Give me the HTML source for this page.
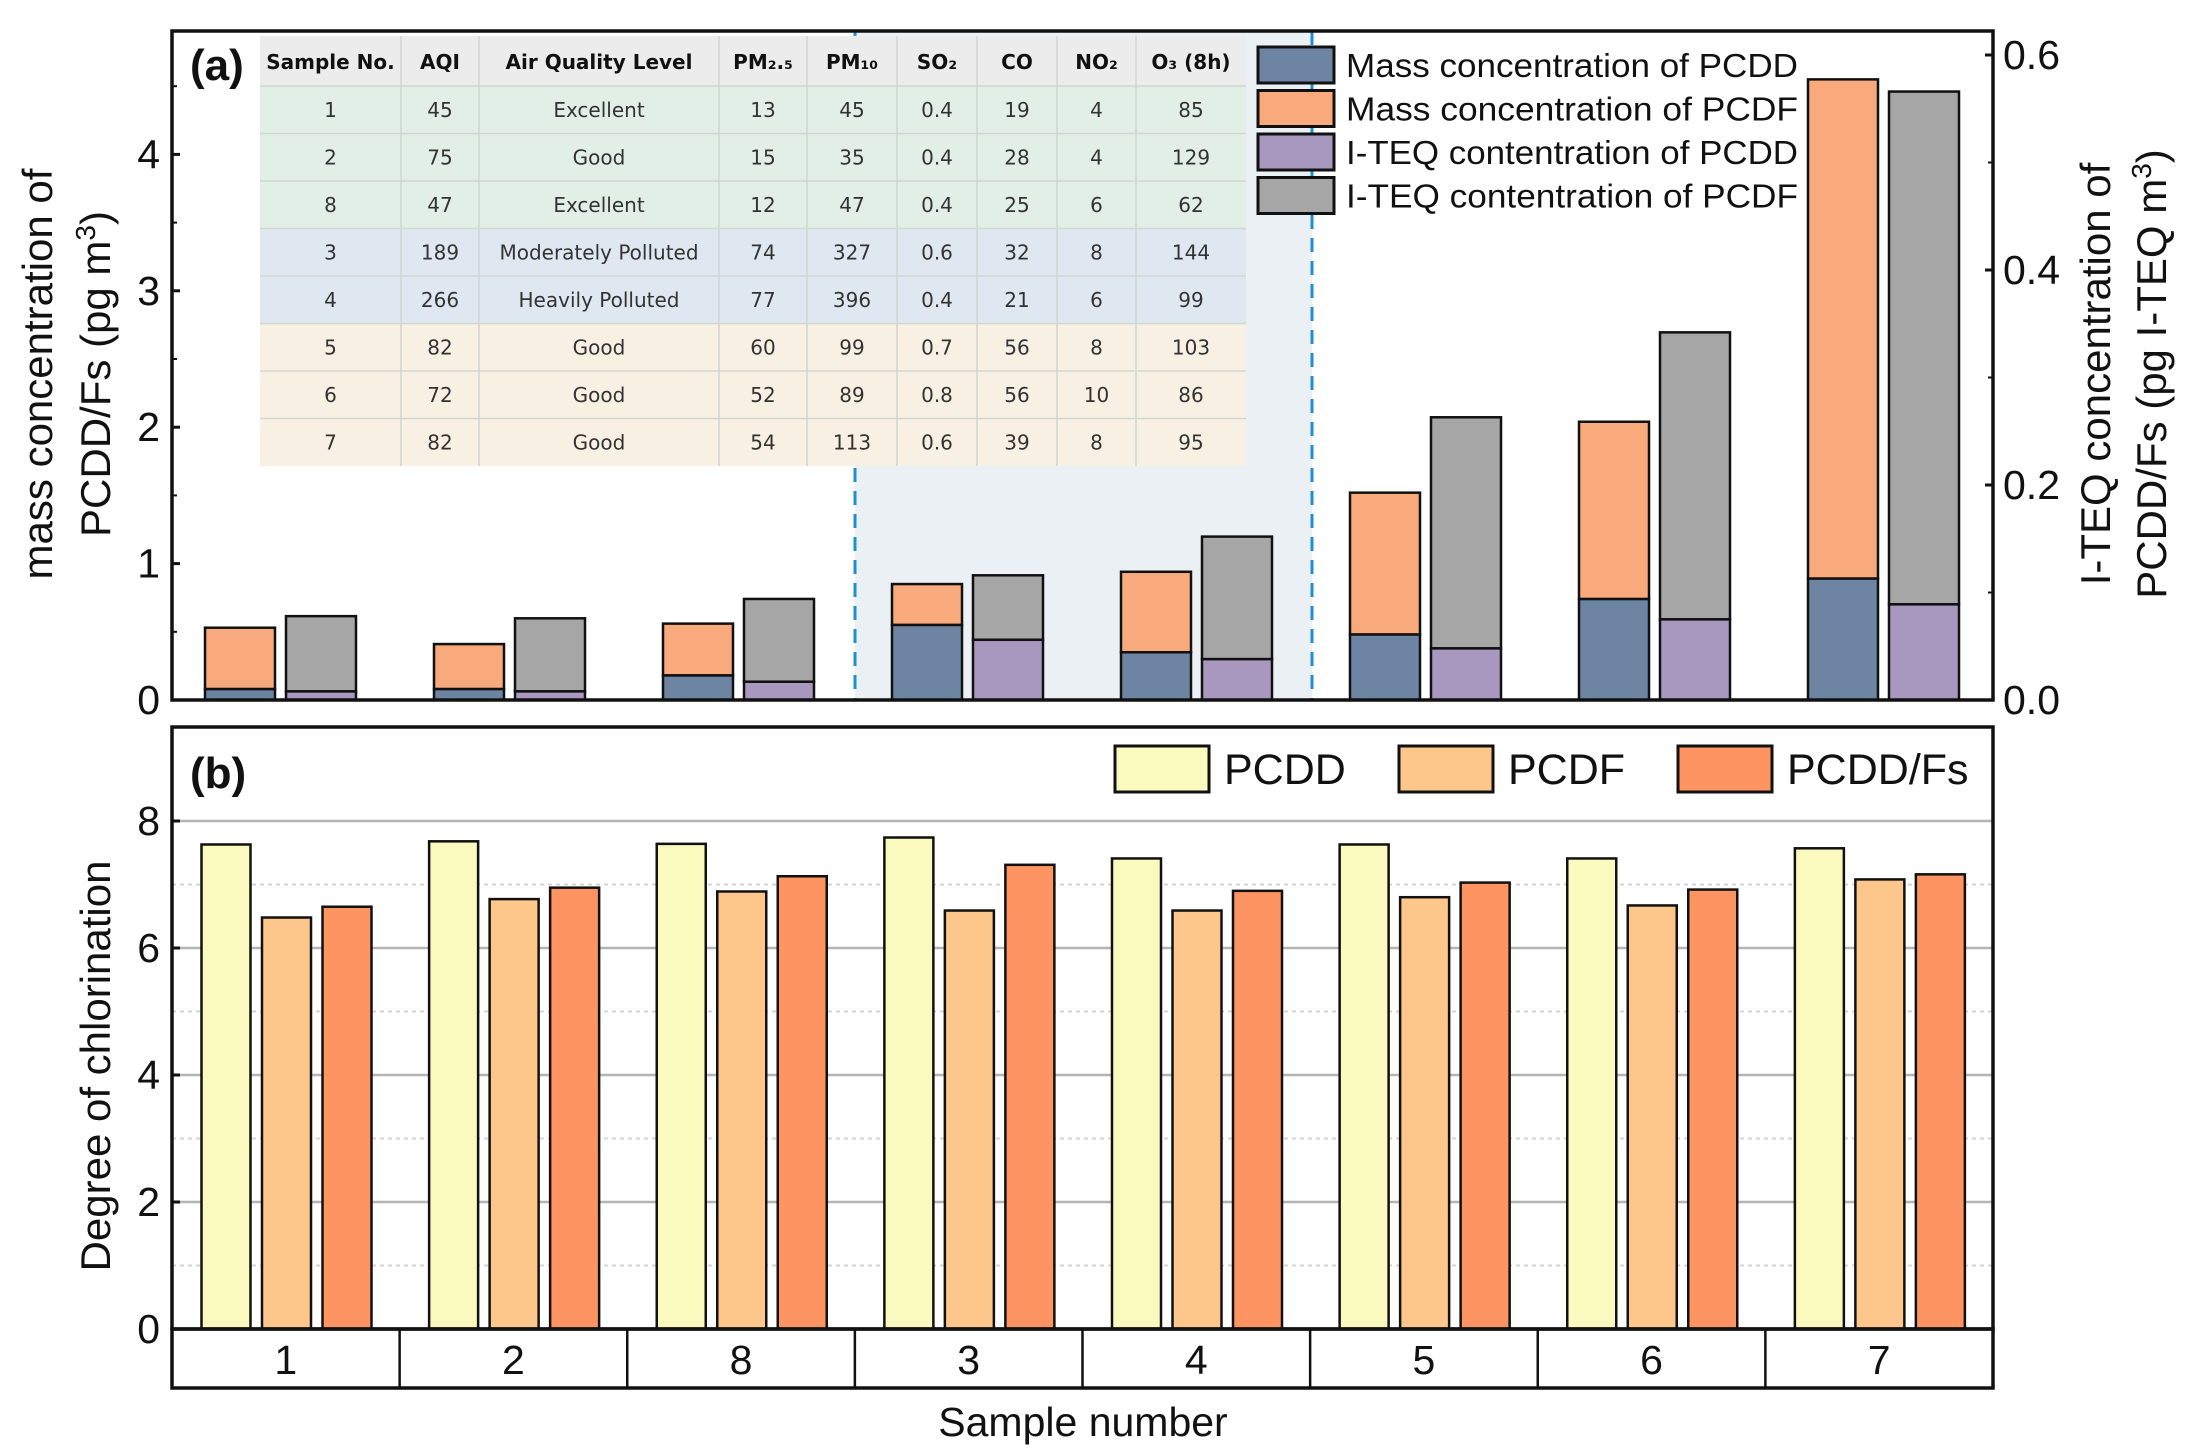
<!DOCTYPE html>
<html><head><meta charset="utf-8"><style>
html,body{margin:0;padding:0;background:#fff}
svg{display:block;font-family:"Liberation Sans",sans-serif}
</style></head><body>
<svg id="fig" width="2194" height="1455" viewBox="0 0 2194 1455" xmlns="http://www.w3.org/2000/svg">
<g id="a"></g>
<g id="b"></g>
</svg>
<script>
const samples = ["1","2","8","3","4","5","6","7"];
const massPCDD = [0.08,0.08,0.18,0.55,0.35,0.48,0.74,0.89];
const massTotal = [0.53,0.41,0.56,0.85,0.94,1.52,2.04,4.55];
const teqPCDD = [0.008,0.008,0.017,0.056,0.038,0.048,0.075,0.089];
const teqTotal = [0.078,0.076,0.094,0.116,0.152,0.263,0.342,0.566];
const leftTicks = [0,1,2,3,4];
const rightTicks = [0,0.2,0.4,0.6];
const rightTickLabels = ["0.0","0.2","0.4","0.6"];
const chlPCDD = [7.63,7.68,7.64,7.74,7.41,7.63,7.41,7.57];
const chlPCDF = [6.48,6.77,6.89,6.59,6.59,6.80,6.67,7.08];
const chlAll = [6.65,6.95,7.13,7.31,6.90,7.03,6.92,7.16];
const bTicks = [0,2,4,6,8];
const tableHeader = ["Sample No.","AQI","Air Quality Level","PM₂.₅","PM₁₀","SO₂","CO","NO₂","O₃ (8h)"];
const tableRows = [
["1","45","Excellent","13","45","0.4","19","4","85"],
["2","75","Good","15","35","0.4","28","4","129"],
["8","47","Excellent","12","47","0.4","25","6","62"],
["3","189","Moderately Polluted","74","327","0.6","32","8","144"],
["4","266","Heavily Polluted","77","396","0.4","21","6","99"],
["5","82","Good","60","99","0.7","56","8","103"],
["6","72","Good","52","89","0.8","56","10","86"],
["7","82","Good","54","113","0.6","39","8","95"]];

const NS="http://www.w3.org/2000/svg";
function el(parent,tag,attrs,text){const e=document.createElementNS(NS,tag);for(const k in attrs)e.setAttribute(k,attrs[k]);if(text!==undefined)e.textContent=text;parent.appendChild(e);return e;}

// ---------- Panel A ----------
const A=document.getElementById('a');
const aL=172,aR=1993,aT=31,aB=700;
const yL=v=>aB-v*136.4;
const yR=v=>aB-v*1075;
const aX=i=>205+229*i;
const bw=70;
let r;
r=el(A,'rect',{x:855,y:aT,width:457,height:aB-aT,fill:'#ebf0f4'});


for(const dx of [855,1312]){
  r=el(A,'line',{x1:dx,y1:aT,x2:dx,y2:aB,stroke:'#1f8fd4','stroke-width':3,'stroke-dasharray':'14,9'});
  
  
}
samples.forEach((s,i)=>{
  const x=aX(i);
  r=el(A,'rect',{x:x,y:yL(massTotal[i]),width:bw,height:yL(massPCDD[i])-yL(massTotal[i]),fill:'#f8aa7d',stroke:'#111','stroke-width':2.5});
  
  
  r=el(A,'rect',{x:x,y:yL(massPCDD[i]),width:bw,height:aB-yL(massPCDD[i]),fill:'#6e84a3',stroke:'#111','stroke-width':2.5});
  
  
  const x2=x+81;
  r=el(A,'rect',{x:x2,y:yR(teqTotal[i]),width:bw,height:yR(teqPCDD[i])-yR(teqTotal[i]),fill:'#a6a6a6',stroke:'#111','stroke-width':2.5});
  
  
  r=el(A,'rect',{x:x2,y:yR(teqPCDD[i]),width:bw,height:aB-yR(teqPCDD[i]),fill:'#a898c0',stroke:'#111','stroke-width':2.5});
  
  
});
// table
const tbl=el(A,'g',{});


const cols=[260,401,479,719,807,897,977,1057,1136,1246];
const rowTop=36,hH=50,rH=47.5;
el(tbl,'rect',{x:260,y:rowTop,width:986,height:hH,fill:'#ececec'});
const rowFill=['#e2efe6','#e2efe6','#e2efe6','#dfe8f1','#dfe8f1','#f8f1e3','#f8f1e3','#f8f1e3'];
tableRows.forEach((row,ri)=>{
  const y=rowTop+hH+ri*rH;
  el(tbl,'rect',{x:260,y:y,width:986,height:rH,fill:rowFill[ri]});
  el(tbl,'line',{x1:260,y1:y,x2:1246,y2:y,stroke:'#cfd8d2','stroke-width':1.5});
  row.forEach((c,ci)=>{
    r=el(tbl,'text',{x:(cols[ci]+cols[ci+1])/2,y:y+rH/2+7,'text-anchor':'middle','font-family':'DejaVu Sans, sans-serif','font-size':20,fill:'#333'},c);
    
    
  });
});
cols.slice(1,-1).forEach(cx=>el(tbl,'line',{x1:cx,y1:rowTop,x2:cx,y2:rowTop+hH+8*rH,stroke:'#d0d6d2','stroke-width':1.5}));
tableHeader.forEach((h,ci)=>{
  r=el(tbl,'text',{x:(cols[ci]+cols[ci+1])/2,y:rowTop+hH/2+8,'text-anchor':'middle','font-family':'DejaVu Sans, sans-serif','font-weight':'bold','font-size':20,fill:'#111'},h);
  
  
});
// frame
r=el(A,'rect',{x:aL,y:aT,width:aR-aL,height:aB-aT,fill:'none',stroke:'#111','stroke-width':3.5});


leftTicks.forEach(v=>{
  el(A,'line',{x1:aL,y1:yL(v),x2:aL+8,y2:yL(v),stroke:'#111','stroke-width':3});
  el(A,'line',{x1:aL,y1:yL(v+0.5),x2:aL+5,y2:yL(v+0.5),stroke:'#111','stroke-width':2});
  r=el(A,'text',{x:aL-12,y:yL(v)+14,'text-anchor':'end','font-size':41,fill:'#111'},String(v));
  
  
});
rightTicks.forEach((v,k)=>{
  el(A,'line',{x1:aR,y1:yR(v),x2:aR-8,y2:yR(v),stroke:'#111','stroke-width':3});
  if(k<3) el(A,'line',{x1:aR,y1:yR(v+0.1),x2:aR-5,y2:yR(v+0.1),stroke:'#111','stroke-width':2});
  r=el(A,'text',{x:aR+10,y:yR(v)+14,'font-size':41,fill:'#111'},rightTickLabels[k]);
  
  
});
r=el(A,'text',{x:190,y:80,'font-size':44,'font-weight':'bold',fill:'#111'},'(a)');


// y titles
const lt=el(A,'text',{transform:'translate(52,374) rotate(-90)','text-anchor':'middle','font-size':42,fill:'#111'},'mass concentration of');


const lt2=el(A,'text',{transform:'translate(110,374) rotate(-90)','text-anchor':'middle','font-size':42,fill:'#111'});
lt2.innerHTML='PCDD/Fs (pg m<tspan dy="-15" font-size="28">3</tspan><tspan dy="15">)</tspan>';


const rt=el(A,'text',{transform:'translate(2110,374) rotate(-90)','text-anchor':'middle','font-size':42,fill:'#111'},'I-TEQ concentration of');


const rt2=el(A,'text',{transform:'translate(2166,374) rotate(-90)','text-anchor':'middle','font-size':42,fill:'#111'});
rt2.innerHTML='PCDD/Fs (pg I-TEQ m<tspan dy="-15" font-size="28">3</tspan><tspan dy="15">)</tspan>';


// legend a
const legA=[['#6e84a3','Mass concentration of PCDD'],['#f8aa7d','Mass concentration of PCDF'],['#a898c0','I-TEQ contentration of PCDD'],['#a6a6a6','I-TEQ contentration of PCDF']];
legA.forEach((l,k)=>{
  const y=47+k*43.5;
  r=el(A,'rect',{x:1258,y:y,width:76,height:36,fill:l[0],stroke:'#111','stroke-width':3});
  
  
  r=el(A,'text',{x:1346,y:y+30,'font-size':33,fill:'#111',textLength:452,lengthAdjust:'spacingAndGlyphs'},l[1]);
  
  
});

// ---------- Panel B ----------
const B=document.getElementById('b');
const bL=172,bR=1993,bT=727,bB=1329;
const yB=v=>bB-v*63.5;
const gW=(bR-bL)/8;
[1,3,5,7].forEach(v=>el(B,'line',{x1:bL,y1:yB(v),x2:bR,y2:yB(v),stroke:'#d4d4d4','stroke-width':2,'stroke-dasharray':'4,4'}));
[2,4,6,8].forEach(v=>el(B,'line',{x1:bL,y1:yB(v),x2:bR,y2:yB(v),stroke:'#b4b4b4','stroke-width':2.5}));
const bSeries=[[chlPCDD,'#fafabf','pcdd'],[chlPCDF,'#fdc68b','pcdf'],[chlAll,'#fd9462','pcddfs']];
const offs=[29.5,90,150.5];
samples.forEach((s,i)=>{
  bSeries.forEach((ser,k)=>{
    const v=ser[0][i];
    r=el(B,'rect',{x:bL+gW*i+offs[k],y:yB(v),width:49,height:bB-yB(v),fill:ser[1],stroke:'#111','stroke-width':2.5});
    
    
  });
  r=el(B,'text',{x:bL+gW*(i+0.5),y:1374,'text-anchor':'middle','font-size':41,fill:'#111'},s);
  
  
  if(i>0) el(B,'line',{x1:bL+gW*i,y1:bB,x2:bL+gW*i,y2:1388,stroke:'#111','stroke-width':2.5});
});
r=el(B,'rect',{x:bL,y:bT,width:bR-bL,height:bB-bT,fill:'none',stroke:'#111','stroke-width':3.5});


r=el(B,'rect',{x:bL,y:bB,width:bR-bL,height:1388-bB,fill:'none',stroke:'#111','stroke-width':3.5});


bTicks.forEach(v=>{
  el(B,'line',{x1:bL,y1:yB(v),x2:bL+8,y2:yB(v),stroke:'#111','stroke-width':3});
  r=el(B,'text',{x:bL-12,y:yB(v)+14,'text-anchor':'end','font-size':41,fill:'#111'},String(v));
  
  
});
r=el(B,'text',{x:190,y:788,'font-size':44,'font-weight':'bold',fill:'#111'},'(b)');


r=el(B,'text',{transform:'translate(110,1066) rotate(-90)','text-anchor':'middle','font-size':42,fill:'#111'},'Degree of chlorination');


r=el(B,'text',{x:1083,y:1436,'text-anchor':'middle','font-size':41,fill:'#111'},'Sample number');


const legB=[[1115,'#fafabf','PCDD'],[1399,'#fdc68b','PCDF'],[1678,'#fd9462','PCDD/Fs']];
legB.forEach(l=>{
  r=el(B,'rect',{x:l[0],y:746,width:94,height:46,fill:l[1],stroke:'#111','stroke-width':3});
  
  
  r=el(B,'text',{x:l[0]+109,y:784,'font-size':43,fill:'#111'},l[2]);
  
  
});
</script>
</body></html>
